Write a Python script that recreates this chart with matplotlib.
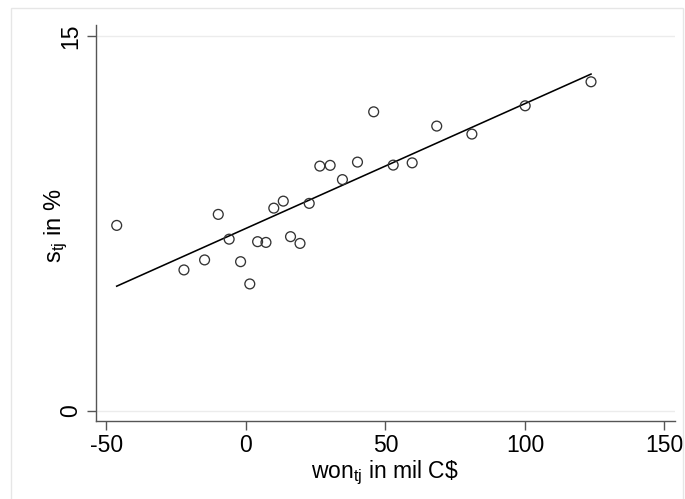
import numpy as np
import matplotlib
matplotlib.use("Agg")
import matplotlib.pyplot as plt
from matplotlib.patches import Rectangle

# data
won = [-46.3, -22.2, -14.8, -9.9, -6.0, -1.9, 1.4, 4.2, 7.2, 10.0, 13.4, 16.0,
       19.4, 22.7, 26.5, 30.2, 34.6, 40.0, 45.8, 52.8, 59.6, 68.4, 81.0, 100.1, 123.7]
share = [7.42, 5.64, 6.04, 7.86, 6.87, 5.97, 5.08, 6.77, 6.74, 8.11, 8.39, 6.97,
         6.70, 8.30, 9.79, 9.82, 9.25, 9.95, 11.96, 9.83, 9.92, 11.39, 11.07, 12.20, 13.16]
xticks = [-50, 0, 50, 100, 150]
yticks = [0, 15]

plt.rcParams['font.family'] = ['Liberation Sans', 'DejaVu Sans']
plt.rcParams['mathtext.fontset'] = 'custom'
plt.rcParams['mathtext.rm'] = 'Liberation Sans'
plt.rcParams['mathtext.it'] = 'Liberation Sans'
plt.rcParams['axes.unicode_minus'] = False

FS = 16.5
W, H = 685, 499
fig = plt.figure(figsize=(W / 100, H / 100), dpi=100)
fig.patches.append(Rectangle((11 / W, -0.01), (683 - 11) / W, 1 - 8 / H + 0.01,
                             transform=fig.transFigure, fill=False,
                             edgecolor='#e6e6e6', linewidth=1.0, zorder=0))

left, right, top, bottom = 95.5, 675, 25, 421.3
ax = fig.add_axes([left / W, 1 - bottom / H, (right - left) / W, (bottom - top) / H])
ax.set_facecolor('white')

x = np.array(won)
y = np.array(share)
b, a = np.polyfit(x, y, 1)
xl = np.array([x.min(), x.max()])
ax.plot(xl, a + b * xl, color='black', linewidth=1.15, zorder=3)
ax.scatter(x, y, s=50, facecolors='none', edgecolors='#333333', linewidths=0.95, zorder=4)

ax.set_xlim(-53.9, 153.8)
ax.set_ylim(-0.41, 15.43)
ax.set_xticks(xticks)
ax.set_yticks(yticks)
for v in yticks:
    ax.axhline(v, color='#ececec', linewidth=1.0, zorder=1)

for s in ['top', 'right']:
    ax.spines[s].set_visible(False)
for s in ['left', 'bottom']:
    ax.spines[s].set_color('#555555')
    ax.spines[s].set_linewidth(1.0)
ax.tick_params(axis='both', direction='out', length=6.5, width=1.0, color='#555555',
               labelsize=FS, labelcolor='black', pad=3)
ax.tick_params(axis='y', labelrotation=90)
for lab in ax.get_yticklabels():
    lab.set_verticalalignment('center')

ax.set_xlabel(r'won$_{\mathrm{tj}}$ in mil C\$', fontsize=FS, labelpad=1)
ax.set_ylabel(r's$_{\mathrm{tj}}$ in %', fontsize=FS + 0.5)
ax.yaxis.label.set_verticalalignment('center')
ax.yaxis.set_label_coords((56 - left) / (right - left), (bottom - 226) / (bottom - top))

fig.savefig('out.png', dpi=100)
